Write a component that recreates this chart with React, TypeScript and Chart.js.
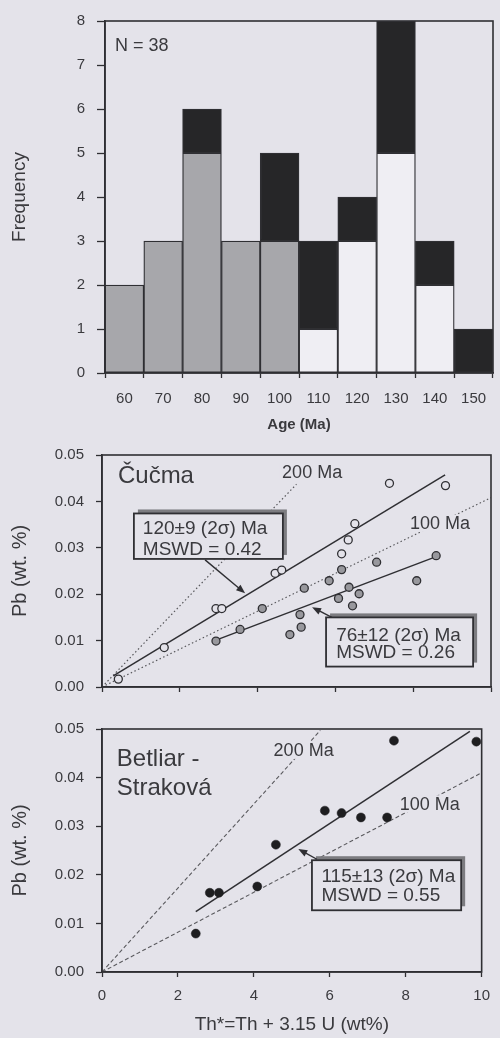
import React, { useEffect, useRef } from 'react';
import { Chart, registerables } from 'chart.js';

Chart.register(...registerables);

const BG = '#e4e3ea';
const INK = '#2f2f33';
const TEXT = '#3a3a3e';
const FONT = '"Liberation Sans", Arial, Helvetica, sans-serif';

// Age histogram (stacked by population)
const ageBins = ['60', '70', '80', '90', '100', '110', '120', '130', '140', '150'];
const freqCucmaYoung = [2, 3, 5, 3, 3, null, null, null, null, null];
const freqCucmaOld = [null, null, null, null, null, 1, 3, 5, 2, null];
const freqBetliar = [null, null, 1, null, 2, 2, 1, 3, 1, 1];

// Čučma monazite: older population (open circles)
const cucmaOldTh = [0.42, 1.6, 2.93, 3.08, 4.45, 4.62, 6.16, 6.33, 6.5, 7.39, 8.83];
const cucmaOldPb = [0.0017, 0.0085, 0.0169, 0.0169, 0.0245, 0.0252, 0.0287, 0.0317, 0.0352, 0.0439, 0.0434];

// Čučma monazite: younger population (grey circles)
const cucmaYoungTh = [2.93, 3.55, 4.12, 5.2, 4.83, 5.12, 5.09, 5.84, 6.08, 6.16, 6.35, 6.44, 6.61, 7.06, 8.09, 8.59];
const cucmaYoungPb = [0.0099, 0.0124, 0.0169, 0.0213, 0.0113, 0.0129, 0.0156, 0.0229, 0.0191, 0.0253, 0.0215, 0.0175, 0.0201, 0.0269, 0.0229, 0.0283];

// Betliar - Straková monazite
const betliarTh = [2.47, 2.84, 3.08, 4.09, 4.58, 5.87, 6.31, 6.82, 7.51, 7.69, 9.86];
const betliarPb = [0.0079, 0.0163, 0.0163, 0.0176, 0.0262, 0.0332, 0.0327, 0.0318, 0.0318, 0.0476, 0.0474];

// Isochron fits and reference isochrons (end points)
const cucmaOldFitTh = [0.29, 8.82];
const cucmaOldFitPb = [0.0024, 0.0457];
const cucmaYoungFitTh = [2.93, 8.59];
const cucmaYoungFitPb = [0.0101, 0.0281];
const cucmaRef200Th = [0, 5.0];
const cucmaRef200Pb = [0, 0.0437];
const cucmaRef100Th = [0, 10];
const cucmaRef100Pb = [0, 0.0408];
const betliarFitTh = [2.47, 9.69];
const betliarFitPb = [0.0124, 0.0495];
const betliarRef200Th = [0, 5.75];
const betliarRef200Pb = [0, 0.0497];
const betliarRef100Th = [0, 10];
const betliarRef100Pb = [0, 0.041];

const pts = (xs: number[], ys: number[]) => xs.map((x, i) => ({ x, y: ys[i] }));

Chart.defaults.font.family = FONT;
Chart.defaults.color = TEXT;

// Frame, labels, result boxes and arrows
const decor = {
  id: 'decor',
  afterDatasetsDraw(chart: any, _args: any, opts: any) {
    const { ctx, chartArea: a } = chart;
    const sx = chart.scales.x;
    const sy = chart.scales.y;
    const X = (v: number) => sx.getPixelForValue(v);
    const Y = (v: number) => sy.getPixelForValue(v);
    ctx.save();
    ctx.strokeStyle = INK;
    ctx.lineWidth = 1.6;
    ctx.strokeRect(a.left, a.top, a.right - a.left, a.bottom - a.top);

    for (const t of opts.texts || []) {
      const px = t.ax !== undefined ? a.left + t.ax : X(t.x);
      const py = t.ay !== undefined ? a.top + t.ay : Y(t.y);
      ctx.font = `${t.size}px ${FONT}`;
      if (t.mask) {
        const w = ctx.measureText(t.text).width;
        ctx.fillStyle = BG;
        ctx.fillRect(px - 3, py - t.size * 0.8, w + 6, t.size * 0.95);
      }
      ctx.fillStyle = TEXT;
      ctx.textBaseline = 'alphabetic';
      ctx.textAlign = 'left';
      ctx.fillText(t.text, px, py);
    }

    for (const b of opts.boxes || []) {
      const x0 = X(b.x0), x1 = X(b.x1), y0 = Y(b.y0), y1 = Y(b.y1);
      ctx.fillStyle = '#7c7c80';
      ctx.fillRect(x0 + 4, y0 - 4, x1 - x0, y1 - y0);
      ctx.fillStyle = BG;
      ctx.fillRect(x0, y0, x1 - x0, y1 - y0);
      ctx.strokeStyle = INK;
      ctx.lineWidth = 1.8;
      ctx.strokeRect(x0, y0, x1 - x0, y1 - y0);
      ctx.fillStyle = TEXT;
      ctx.font = `19px ${FONT}`;
      ctx.textBaseline = 'alphabetic';
      for (const l of b.lines) ctx.fillText(l.t, X(b.tx), Y(l.y));
    }

    for (const r of opts.arrows || []) {
      const x1 = X(r.x1), y1 = Y(r.y1), x2 = X(r.x2), y2 = Y(r.y2);
      const ang = Math.atan2(y2 - y1, x2 - x1);
      ctx.strokeStyle = INK;
      ctx.lineWidth = 1.4;
      ctx.beginPath();
      ctx.moveTo(x1, y1);
      ctx.lineTo(x2 - 6 * Math.cos(ang), y2 - 6 * Math.sin(ang));
      ctx.stroke();
      ctx.fillStyle = INK;
      ctx.beginPath();
      ctx.moveTo(x2, y2);
      ctx.lineTo(x2 - 9 * Math.cos(ang) + 3.5 * Math.sin(ang), y2 - 9 * Math.sin(ang) - 3.5 * Math.cos(ang));
      ctx.lineTo(x2 - 9 * Math.cos(ang) - 3.5 * Math.sin(ang), y2 - 9 * Math.sin(ang) + 3.5 * Math.cos(ang));
      ctx.closePath();
      ctx.fill();
    }
    ctx.restore();
  },
};

const tickFont = { size: 15, family: FONT };

function pbAxis(showTitle: boolean) {
  return {
    type: 'linear',
    min: 0,
    max: 0.05,
    afterFit: (s: any) => { s.width = 102; },
    ticks: { stepSize: 0.01, padding: 12, font: tickFont, color: TEXT, callback: (v: any) => Number(v).toFixed(2) },
    grid: { drawOnChartArea: false, drawTicks: true, tickLength: 6, color: INK, tickColor: INK, tickWidth: 1.3 },
    border: { display: true, color: INK, width: 1.6 },
    title: { display: showTitle, text: 'Pb (wt. %)', font: { size: 20, family: FONT }, color: TEXT, padding: { top: 8, bottom: 0 } },
  };
}

function thAxis(labels: boolean, height: number) {
  return {
    type: 'linear',
    min: 0,
    max: 10,
    afterFit: (s: any) => { s.height = height; },
    ticks: { stepSize: 2, display: labels, padding: 10, font: tickFont, color: TEXT, maxRotation: 0 },
    grid: { drawOnChartArea: false, drawTicks: true, tickLength: 5, color: INK, tickColor: INK, tickWidth: 1.3 },
    border: { display: true, color: INK, width: 1.6 },
    title: {
      display: labels,
      text: 'Th*=Th + 3.15 U (wt%)',
      font: { size: 19, family: FONT },
      color: TEXT,
      padding: { top: 0, bottom: 2 },
    },
  };
}

const lineSet = (data: any[], dash: number[], color: string, width: number) => ({
  type: 'scatter',
  data,
  showLine: true,
  pointRadius: 0,
  borderColor: color,
  borderWidth: width,
  borderDash: dash,
  fill: false,
});

const baseOpts = {
  responsive: false,
  animation: false,
  devicePixelRatio: 1,
  events: [],
};

function histConfig(): any {
  const bar = (data: any[], color: string) => ({
    data,
    backgroundColor: color,
    borderColor: INK,
    borderWidth: 1.3,
    borderSkipped: false,
    categoryPercentage: 1,
    barPercentage: 1,
  });
  return {
    type: 'bar',
    data: {
      labels: ageBins,
      datasets: [bar(freqCucmaYoung, '#a7a7ab'), bar(freqCucmaOld, '#efeef3'), bar(freqBetliar, '#262628')],
    },
    options: {
      ...baseOpts,
      layout: { padding: { top: 20, right: 7, left: 0, bottom: 0 } },
      plugins: {
        legend: { display: false },
        tooltip: { enabled: false },
        decor: { texts: [{ ax: 10, ay: 30, text: 'N = 38', size: 18 }] },
      },
      scales: {
        x: {
          stacked: true,
          afterFit: (s: any) => { s.height = 61; },
          ticks: { padding: 12, font: tickFont, color: TEXT, maxRotation: 0, autoSkip: false },
          grid: { offset: true, drawOnChartArea: false, drawTicks: true, tickLength: 5, color: INK, tickColor: INK, tickWidth: 1.3 },
          border: { display: true, color: INK, width: 1.6 },
          title: { display: true, text: 'Age (Ma)', font: { size: 15, weight: 'bold', family: FONT }, color: TEXT, padding: { top: 0, bottom: 0 } },
        },
        y: {
          stacked: true,
          min: 0,
          max: 8,
          afterFit: (s: any) => { s.width = 105; },
          ticks: { stepSize: 1, padding: 12, font: tickFont, color: TEXT },
          grid: { drawOnChartArea: false, drawTicks: true, tickLength: 8, color: INK, tickColor: INK, tickWidth: 1.3 },
          border: { display: true, color: INK, width: 1.6 },
          title: { display: true, text: 'Frequency', font: { size: 19, family: FONT }, color: TEXT, padding: { top: 8, bottom: 0 } },
        },
      },
    },
    plugins: [decor],
  };
}

function cucmaConfig(): any {
  return {
    type: 'scatter',
    data: {
      datasets: [
        { data: pts(cucmaOldTh, cucmaOldPb), pointRadius: 4, backgroundColor: BG, borderColor: INK, borderWidth: 1.3 },
        { data: pts(cucmaYoungTh, cucmaYoungPb), pointRadius: 4, backgroundColor: '#98989d', borderColor: INK, borderWidth: 1.3 },
        lineSet(pts(cucmaOldFitTh, cucmaOldFitPb), [], INK, 1.5),
        lineSet(pts(cucmaYoungFitTh, cucmaYoungFitPb), [], INK, 1.5),
        lineSet(pts(cucmaRef200Th, cucmaRef200Pb), [1.5, 2.5], '#58585c', 1.2),
        lineSet(pts(cucmaRef100Th, cucmaRef100Pb), [1.5, 2.5], '#58585c', 1.2),
      ],
    },
    options: {
      ...baseOpts,
      layout: { padding: { top: 13, right: 9, left: 0, bottom: 0 } },
      plugins: {
        legend: { display: false },
        tooltip: { enabled: false },
        decor: {
          texts: [
            { x: 0.41, y: 0.044, text: 'Čučma', size: 24 },
            { x: 4.63, y: 0.045, text: '200 Ma', size: 18, mask: true },
            { x: 7.92, y: 0.034, text: '100 Ma', size: 18, mask: true },
          ],
          boxes: [
            { x0: 0.82, y0: 0.0374, x1: 4.65, y1: 0.0276, tx: 1.05, lines: [{ t: '120±9 (2σ) Ma', y: 0.033 }, { t: 'MSWD = 0.42', y: 0.0284 }] },
            { x0: 5.76, y0: 0.015, x1: 9.54, y1: 0.0044, tx: 6.02, lines: [{ t: '76±12 (2σ) Ma', y: 0.01 }, { t: 'MSWD = 0.26', y: 0.0062 }] },
          ],
          arrows: [
            { x1: 2.65, y1: 0.0274, x2: 3.68, y2: 0.0202 },
            { x1: 5.91, y1: 0.015, x2: 5.4, y2: 0.0172 },
          ],
        },
      },
      scales: { x: thAxis(false, 11), y: pbAxis(true) },
    },
    plugins: [decor],
  };
}

function betliarConfig(): any {
  return {
    type: 'scatter',
    data: {
      datasets: [
        { data: pts(betliarTh, betliarPb), pointRadius: 4.5, backgroundColor: '#1e1e20', borderColor: '#1e1e20', borderWidth: 0.5 },
        lineSet(pts(betliarFitTh, betliarFitPb), [], INK, 1.5),
        lineSet(pts(betliarRef200Th, betliarRef200Pb), [4, 2.5], '#5a5a5e', 1.1),
        lineSet(pts(betliarRef100Th, betliarRef100Pb), [4, 2.5], '#5a5a5e', 1.1),
      ],
    },
    options: {
      ...baseOpts,
      layout: { padding: { top: 10, right: 9, left: 0, bottom: 0 } },
      plugins: {
        legend: { display: false },
        tooltip: { enabled: false },
        decor: {
          texts: [
            { x: 0.39, y: 0.0423, text: 'Betliar -', size: 24 },
            { x: 0.39, y: 0.0364, text: 'Straková', size: 24 },
            { x: 4.52, y: 0.0444, text: '200 Ma', size: 18, mask: true },
            { x: 7.84, y: 0.0334, text: '100 Ma', size: 18, mask: true },
          ],
          boxes: [
            { x0: 5.53, y0: 0.023, x1: 9.46, y1: 0.0127, tx: 5.78, lines: [{ t: '115±13 (2σ) Ma', y: 0.0186 }, { t: 'MSWD = 0.55', y: 0.0147 }] },
          ],
          arrows: [{ x1: 5.66, y1: 0.0232, x2: 5.17, y2: 0.0253 }],
        },
      },
      scales: { x: thAxis(true, 66), y: pbAxis(true) },
    },
    plugins: [decor],
  };
}

export default function App() {
  const histRef = useRef<HTMLCanvasElement>(null);
  const cucmaRef = useRef<HTMLCanvasElement>(null);
  const betliarRef = useRef<HTMLCanvasElement>(null);

  useEffect(() => {
    const charts = [
      new Chart(histRef.current!, histConfig()),
      new Chart(cucmaRef.current!, cucmaConfig()),
      new Chart(betliarRef.current!, betliarConfig()),
    ];
    return () => charts.forEach((c) => c.destroy());
  }, []);

  return (
    <div style={{ position: 'absolute', left: 0, top: 0, width: 500, height: 1038, background: BG, overflow: 'hidden' }}>
      <canvas ref={histRef} width={500} height={434} style={{ position: 'absolute', left: 0, top: 0 }} />
      <canvas ref={cucmaRef} width={500} height={274} style={{ position: 'absolute', left: 0, top: 434 }} />
      <canvas ref={betliarRef} width={500} height={330} style={{ position: 'absolute', left: 0, top: 708 }} />
    </div>
  );
}
